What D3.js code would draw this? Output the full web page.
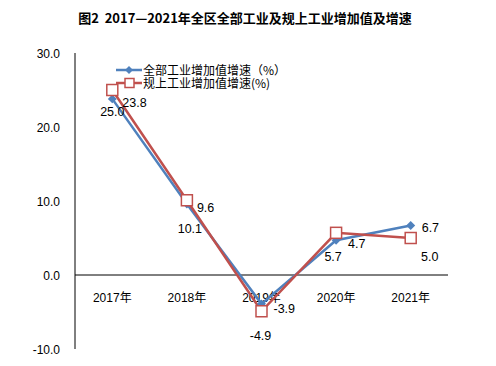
<!DOCTYPE html>
<html><head><meta charset="utf-8">
<script src="https://cdn.jsdelivr.net/npm/d3@7"></script>
<style>body{margin:0;background:#fff}svg{display:block}</style>
</head><body>
<script>
const title = "图2  2017—2021年全区全部工业及规上工业增加值及增速";
const categories = ["2017年","2018年","2019年","2020年","2021年"];
const seriesNames = ["全部工业增加值增速（%）","规上工业增加值增速(%)"];
const allIndustry = [23.8, 9.6, -3.9, 4.7, 6.7];
const aboveScale = [25.0, 10.1, -4.9, 5.7, 5.0];
const yTicks = [-10, 0, 10, 20, 30];

// label placement offsets (styling)
const blueOff = [[10,4],[10,4],[12,5],[12,4],[11,3]];
const redOff = [[0,28],[3,35],[-1,31],[-3,30],[19,25]];

const W=496,H=366;
const svg=d3.select("body").append("svg").attr("width",W).attr("height",H);
const x=d3.scaleBand().domain(categories).range([75,448]);
const y=d3.scaleLinear().domain([-10,30]).range([349,53]);
const font="Arial, 'Liberation Sans', 'Noto Sans CJK SC', sans-serif";
const blue="#4F81BD", red="#C0504D";

svg.append("text").attr("x",245).attr("y",23).attr("text-anchor","middle").style("white-space","pre")
 .attr("font-family","'Noto Sans CJK SC', sans-serif").attr("font-weight","bold").attr("font-size",13).text(title);

// y axis
svg.append("line").attr("x1",75).attr("x2",75).attr("y1",y(30)).attr("y2",y(-10)).attr("stroke","#000");
svg.selectAll(".yt").data(yTicks).enter().append("text").attr("x",60).attr("y",d=>y(d)+4.5)
 .attr("text-anchor","end").attr("font-family",font).attr("font-size",12).text(d=>d.toFixed(1));
// x axis at 0
svg.append("line").attr("x1",75).attr("x2",448).attr("y1",y(0)).attr("y2",y(0)).attr("stroke","#000");
svg.selectAll(".xt").data(categories).enter().append("text")
 .attr("x",d=>x(d)+x.bandwidth()/2).attr("y",y(0)+27).attr("text-anchor","middle")
 .attr("font-family",font).attr("font-size",12).text(d=>d);

const cx=i=>x(categories[i])+x.bandwidth()/2;
const line=d3.line().x((d,i)=>cx(i)).y(d=>y(d));
svg.append("path").attr("d",line(allIndustry)).attr("fill","none").attr("stroke",blue).attr("stroke-width",2.5);
svg.append("path").attr("d",line(aboveScale)).attr("fill","none").attr("stroke",red).attr("stroke-width",2.5);
const diamond=d3.symbol().type(d3.symbolSquare).size(40);
svg.selectAll(".bm").data(allIndustry).enter().append("path").attr("d",diamond())
 .attr("transform",(d,i)=>`translate(${cx(i)},${y(d)}) rotate(45)`).attr("fill",blue);
svg.selectAll(".rm").data(aboveScale).enter().append("rect")
 .attr("x",(d,i)=>cx(i)-5.5).attr("y",d=>y(d)-5.5).attr("width",11).attr("height",11)
 .attr("fill","#fff").attr("stroke",red).attr("stroke-width",1.5);

svg.selectAll(".bl").data(allIndustry).enter().append("text")
 .attr("x",(d,i)=>cx(i)+blueOff[i][0]).attr("y",(d,i)=>y(d)+blueOff[i][1]+4)
 .attr("font-family",font).attr("font-size",12.5).text(d=>d.toFixed(1));
svg.selectAll(".rl").data(aboveScale).enter().append("text")
 .attr("x",(d,i)=>cx(i)+redOff[i][0]).attr("y",(d,i)=>y(d)+redOff[i][1]-2).attr("text-anchor","middle")
 .attr("font-family",font).attr("font-size",12.5).text(d=>d.toFixed(1));

// legend
const lg=[{c:blue,t:seriesNames[0],y:70,m:"d"},{c:red,t:seriesNames[1],y:83,m:"s"}];
const dSmall=d3.symbol().type(d3.symbolSquare).size(32);
lg.forEach(l=>{
  svg.append("line").attr("x1",116).attr("x2",142).attr("y1",l.y).attr("y2",l.y).attr("stroke",l.c).attr("stroke-width",2.5);
  if(l.m==="d") svg.append("path").attr("d",dSmall()).attr("transform",`translate(129,${l.y}) rotate(45)`).attr("fill",blue);
  else svg.append("rect").attr("x",125).attr("y",l.y-4.5).attr("width",9).attr("height",9).attr("fill","#fff").attr("stroke",red).attr("stroke-width",1.5);
  svg.append("text").attr("x",143).attr("y",l.y+4.5).attr("font-family","'Noto Sans CJK SC', sans-serif").attr("font-size",12).text(l.t);
});
</script>
</body></html>
